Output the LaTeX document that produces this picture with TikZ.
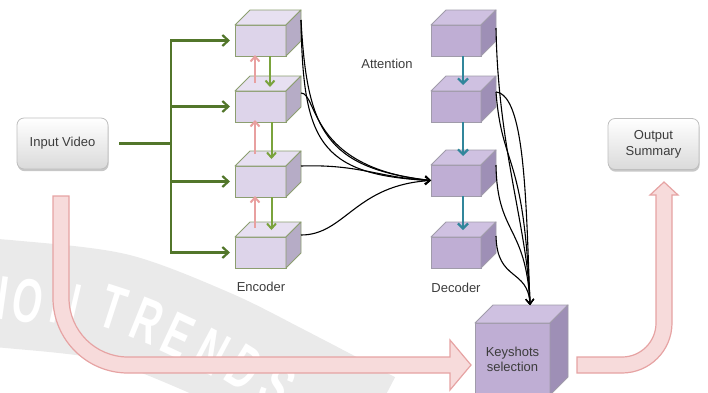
\documentclass[tikz,border=0pt]{standalone}
\usepackage{fontspec}
\setmainfont{Liberation Sans}
\usetikzlibrary{arrows.meta,shadows}

\definecolor{encfront}{RGB}{221,212,234}
\definecolor{enctop}{RGB}{231,224,241}
\definecolor{encside}{RGB}{182,172,198}
\definecolor{encline}{RGB}{140,158,112}
\definecolor{decfront}{RGB}{191,174,212}
\definecolor{dectop}{RGB}{207,193,225}
\definecolor{decside}{RGB}{158,143,182}
\definecolor{decline}{RGB}{160,155,170}
\definecolor{feedgreen}{RGB}{82,118,42}
\definecolor{downgreen}{RGB}{122,163,60}
\definecolor{uppink}{RGB}{232,160,160}
\definecolor{attnteal}{RGB}{49,134,155}
\definecolor{flowfill}{RGB}{247,219,219}
\definecolor{flowline}{RGB}{230,163,163}
\definecolor{labeltext}{RGB}{60,60,60}
\definecolor{termline}{RGB}{190,190,190}
\definecolor{termbottom}{RGB}{218,218,218}
\definecolor{wmband}{RGB}{234,234,234}

% top and right faces of a cuboid whose front face is node #1
\newcommand\boxfaces[3]{%
  \filldraw[draw=#3line, fill=#3top, line width=0.9pt, line join=round]
    (#1.north west) -- ++(#2,-#2) -- ([shift={(#2,-#2)}]#1.north east) -- (#1.north east) -- cycle;
  \filldraw[draw=#3line, fill=#3side, line width=0.9pt, line join=round]
    (#1.north east) -- ([shift={(#2,-#2)}]#1.north east) -- ([shift={(#2,-#2)}]#1.south east) -- (#1.south east) -- cycle;}

\begin{document}
\begin{tikzpicture}[x=1pt, y=-1pt,
  font=\fontsize{13}{15.5}\selectfont,
  encbox/.style={draw=encline, fill=encfront, line width=0.9pt, minimum width=51pt,
    minimum height=31pt, inner sep=0pt, outer sep=0pt},
  decbox/.style={draw=decline, fill=decfront, line width=0.9pt, minimum width=50pt,
    minimum height=31pt, inner sep=0pt, outer sep=0pt},
  keybox/.style={decbox, minimum width=75pt, minimum height=72pt, align=center,
    text=labeltext, font=\fontsize{13}{15}\selectfont},
  termbox/.style={draw=termline, line width=0.8pt, rounded corners=7pt, top color=white,
    bottom color=termbottom, minimum width=91pt, minimum height=51pt, align=center,
    text=labeltext, inner sep=0pt, outer sep=0pt,
    drop shadow={shadow xshift=0.6pt, shadow yshift=-2.2pt, opacity=0.22, fill=black}},
  tagtext/.style={text=labeltext, inner sep=0pt},
  wmletter/.style={text=white, inner sep=0pt, font=\bfseries\fontsize{62}{62}\selectfont},
  barb/.tip={Straight Barb[length=6pt, width=11pt]},
  feedline/.style={draw=feedgreen, line width=2.2pt, line join=miter},
  feed/.style={feedline, -barb, shorten >=5pt},
  fwd/.style={draw=downgreen, line width=2pt, -{Straight Barb[length=5pt, width=9pt]}},
  bwd/.style={draw=uppink, line width=2pt, -{Straight Barb[length=5pt, width=9pt]}},
  attn/.style={draw=attnteal, line width=2.2pt, -{Straight Barb[length=5pt, width=10pt]}},
  link/.style={draw=black, line width=1.1pt, -{Straight Barb[length=5pt, width=8pt]}},
  flow/.style={fill=flowfill, draw=flowline, line width=1.2pt, line join=miter}]

\useasboundingbox (0,0) rectangle (708,392);
\clip (0,0) rectangle (708,392);

% faint seal in the background
\draw[wmband, line width=108pt] plot[smooth] coordinates
  {(-60,290) (8,294) (115,307) (210,343) (280,378) (370,425)};
\node[wmletter, rotate=-8,  xscale=0.62] (wm1) at (3,298)   {I};
\node[wmletter, rotate=-10, xscale=0.62] (wm2) at (28,301)  {O};
\node[wmletter, rotate=-13, xscale=0.62] (wm3) at (66,304)  {N};
\node[wmletter, rotate=-18, xscale=0.62] (wm4) at (113,308) {T};
\node[wmletter, rotate=-22, xscale=0.62] (wm5) at (147,321) {R};
\node[wmletter, rotate=-25, xscale=0.62] (wm6) at (178,336) {E};
\node[wmletter, rotate=-28, xscale=0.62] (wm7) at (212,352) {N};
\node[wmletter, rotate=-32, xscale=0.62] (wm8) at (245,368) {D};
\node[wmletter, rotate=-36, xscale=0.62] (wm9) at (277,386) {S};

% wide flow arrows
\filldraw[flow] (53,196) -- (53,298) .. controls (53,339.4) and (86.6,373) .. (128,373)
  -- (450,373) -- (450,390) -- (471,365) -- (450,340) -- (450,357) -- (128,357)
  .. controls (95.4,357) and (69,330.6) .. (69,298) -- (69,196) -- cycle;
\filldraw[flow] (577,357) -- (622,357) .. controls (640.8,357) and (656,341.8) .. (656,323)
  -- (656,195) -- (650,195) -- (664,182) -- (678,195) -- (672,195) -- (672,323)
  .. controls (672,350.6) and (649.6,373) .. (622,373) -- (577,373) -- cycle;

% input and output
\node[termbox] (in)  at (62.5,143.5) {Input Video};
\node[termbox, font=\fontsize{13}{16}\selectfont] (out) at (653.5,144) {Output\\Summary};

% encoder column
\node[encbox] (e1) at (260.5,40.5)  {};
\boxfaces{e1}{15}{enc}
\node[encbox] (e2) at (260.5,106.5) {};
\boxfaces{e2}{15}{enc}
\node[encbox] (e3) at (260.5,181.5) {};
\boxfaces{e3}{15}{enc}
\node[encbox] (e4) at (260.5,252.5) {};
\boxfaces{e4}{15}{enc}

% decoder column
\node[decbox] (d1) at (456,40.5)  {};
\boxfaces{d1}{15}{dec}
\node[decbox] (d2) at (456,106.5) {};
\boxfaces{d2}{15}{dec}
\node[decbox] (d3) at (456,180.5) {};
\boxfaces{d3}{15}{dec}
\node[decbox] (d4) at (456,252.5) {};
\boxfaces{d4}{15}{dec}

% keyshot selection block
\node[keybox] (key) at (512.5,359) {Keyshots\\selection};
\boxfaces{key}{18}{dec}

% captions
\node[tagtext] (attnlbl) at (387,64)  {Attention};
\node[tagtext] (enclbl)  at (261,287) {Encoder};
\node[tagtext] (declbl)  at (456,288) {Decoder};

% input fan-out to the encoder
\coordinate (tr) at (171,143.5);
\draw[feedline] ([shift={(11,0)}]in.east) -- (tr);
\draw[feedline, barb-barb, shorten <=5pt, shorten >=5pt]
  (e1.west) -- (tr |- e1.west) -- (tr |- e4.west) -- (e4.west);
\draw[feed] (tr |- e2.west) -- (e2.west);
\draw[feed] (tr |- e3.west) -- (e3.west);

% forward / backward recurrences
\draw[fwd] ([shift={(9.5,0)}]e1.south) -- ([shift={(9.5,-4)}]e2.north);
\draw[fwd] ([shift={(11,0)}]e2.south)  -- ([shift={(11,-7)}]e3.north);
\draw[fwd] ([shift={(11,0)}]e3.south)  -- ([shift={(11,-7)}]e4.north);
\draw[bwd] ([shift={(-5.5,-8)}]e2.north) -- ([shift={(-5.5,-1)}]e1.south);
\draw[bwd] ([shift={(-5.5,-12)}]e3.north) -- ([shift={(-5.5,-2)}]e2.south);
\draw[bwd] ([shift={(-5.5,-9)}]e4.north) -- ([shift={(-5.5,-1)}]e3.south);

% decoder chain
\draw[attn] ([shift={(7,0)}]d1.south) -- ([shift={(7,-6)}]d2.north);
\draw[attn] ([shift={(7,0)}]d2.south) -- ([shift={(7,-9)}]d3.north);
\draw[attn] ([shift={(7,0)}]d3.south) -- ([shift={(7,-7)}]d4.north);

% attention links from the encoder states
\coordinate (e1o) at ([shift={(15,-5)}]e1.north east);
\coordinate (e2o) at ([shift={(15,2)}]e2.north east);
\coordinate (e3o) at ([shift={(15,0)}]e3.north east);
\coordinate (e4o) at ([shift={(15,-2)}]e4.north east);
\draw[link] (e1o) .. controls (303,140) and (318,175) .. (d3.west);
\draw[link] (e1o) .. controls (307,130) and (325,168) .. (d3.west);
\draw[link] (e2o) .. controls (318,93) and (308,168) .. (d3.west);
\draw[link] (e3o) .. controls (360,164) and (380,178) .. (d3.west);
\draw[link] (e4o) .. controls (345,235) and (355,185) .. (d3.west);

% decoder outputs into keyshot selection
\coordinate (kt) at ([shift={(-20,-18)}]key.north east);
\coordinate (d1o) at ([shift={(15,3)}]d1.north east);
\coordinate (d2o) at ([shift={(15,1)}]d2.north east);
\coordinate (d3o) at ([shift={(15,0)}]d3.north east);
\coordinate (d4o) at ([shift={(15,-1)}]d4.north east);
\draw[link] (d1o) .. controls (498,150) and (528,230) .. (kt);
\draw[link] (d2o) .. controls (525,95) and (526,200) .. (kt);
\draw[link] (d2o) .. controls (502,170) and (524,150) .. (kt);
\draw[link] (d3o) .. controls (497,235) and (526,225) .. (kt);
\draw[link] (d4o) .. controls (497,282) and (528,268) .. (kt);
\end{tikzpicture}
\end{document}
